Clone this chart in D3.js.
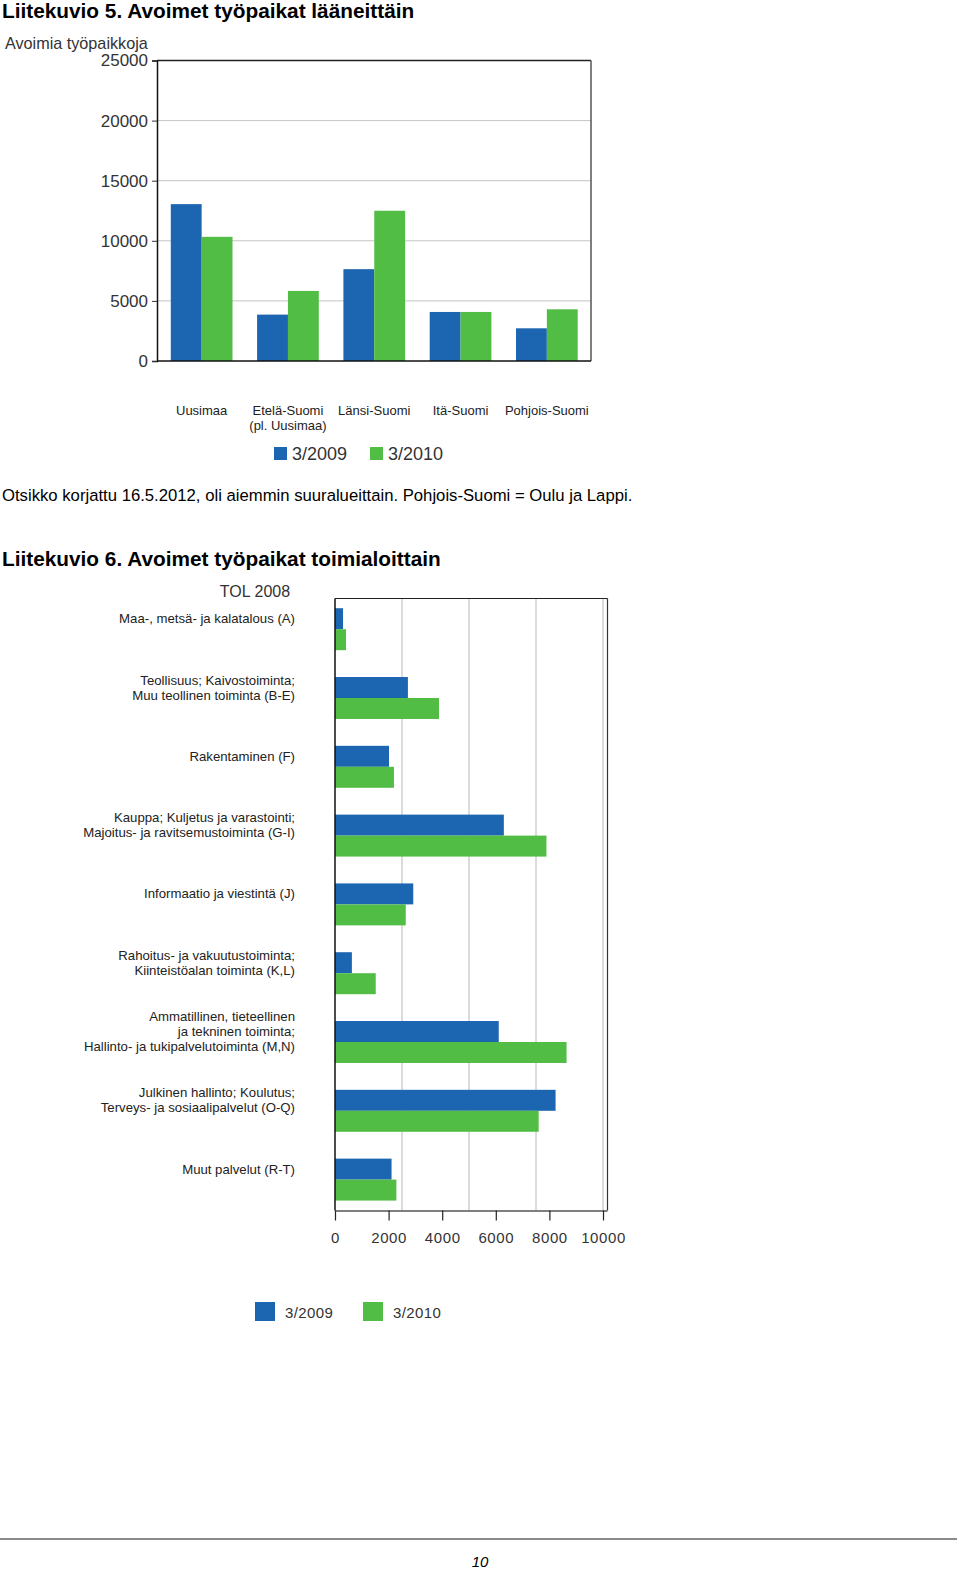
<!DOCTYPE html>
<html>
<head>
<meta charset="utf-8">
<script src="https://cdn.jsdelivr.net/npm/d3@7"></script>
<style>
  html, body { margin: 0; padding: 0; background: #fff; }
  svg { display: block; }
  text { font-family: "Liberation Sans", Arial, sans-serif; }
</style>
</head>
<body>
<svg id="page" width="960" height="1572"></svg>
<script>
// ---------- Data ----------
const seriesNames = ["3/2009", "3/2010"];
const seriesColors = ["#1c65b0", "#52bd45"];

// Chart 5: regions
const regions = ["Uusimaa", "Etelä-Suomi|(pl. Uusimaa)", "Länsi-Suomi", "Itä-Suomi", "Pohjois-Suomi"];
const region2009 = [13050, 3860, 7640, 4080, 2720];
const region2010 = [10330, 5830, 12500, 4080, 4300];
const regionTicks = [0, 5000, 10000, 15000, 20000, 25000];

// Chart 6: industries
const industries = [
  "Maa-, metsä- ja kalatalous (A)",
  "Teollisuus; Kaivostoiminta;|Muu teollinen toiminta (B-E)",
  "Rakentaminen (F)",
  "Kauppa; Kuljetus ja varastointi;|Majoitus- ja ravitsemustoiminta (G-I)",
  "Informaatio ja viestintä (J)",
  "Rahoitus- ja vakuutustoiminta;|Kiinteistöalan toiminta (K,L)",
  "Ammatillinen, tieteellinen|ja tekninen toiminta;|Hallinto- ja tukipalvelutoiminta (M,N)",
  "Julkinen hallinto; Koulutus;|Terveys- ja sosiaalipalvelut (O-Q)",
  "Muut palvelut (R-T)"
];
const industry2009 = [300, 2720, 2015, 6300, 2920, 630, 6110, 8230, 2110];
const industry2010 = [410, 3880, 2200, 7890, 2640, 1520, 8640, 7600, 2290];
const industryTicks = [0, 2000, 4000, 6000, 8000, 10000];
const industryGrid = [2500, 5000, 7500, 10000];

// ---------- Page ----------
const svg = d3.select("#page");

svg.append("text").attr("x", 2).attr("y", 17.5)
  .attr("font-size", 20.8).attr("font-weight", "bold").attr("fill", "#000")
  .text("Liitekuvio 5. Avoimet työpaikat lääneittäin");

svg.append("text").attr("x", 2).attr("y", 501)
  .attr("font-size", 16.7).attr("fill", "#000")
  .text("Otsikko korjattu 16.5.2012, oli aiemmin suuralueittain. Pohjois-Suomi = Oulu ja Lappi.");

svg.append("text").attr("x", 2).attr("y", 566)
  .attr("font-size", 20.8).attr("font-weight", "bold").attr("fill", "#000")
  .text("Liitekuvio 6. Avoimet työpaikat toimialoittain");

svg.append("line").attr("x1", 0).attr("x2", 957).attr("y1", 1539).attr("y2", 1539)
  .attr("stroke", "#8a8a8a").attr("stroke-width", 2);

svg.append("text").attr("x", 480).attr("y", 1567).attr("text-anchor", "middle")
  .attr("font-size", 15).attr("font-style", "italic").attr("fill", "#000").text("10");

// ---------- Chart 5 (vertical bars) ----------
{
  const L = 157, R = 591, T = 60.5, B = 361;
  const g = svg.append("g");
  const x0 = d3.scaleBand().domain(regions).range([158.5, 590]).paddingInner(0.285).paddingOuter(0.1425);
  const x1 = d3.scaleBand().domain(seriesNames).range([0, x0.bandwidth()]);
  const y = d3.scaleLinear().domain([0, 25000]).range([B, T]);

  // gridlines
  g.selectAll("line.grid").data(regionTicks.filter(d => d > 0 && d < 25000)).join("line")
    .attr("x1", L).attr("x2", R).attr("y1", d => y(d)).attr("y2", d => y(d))
    .attr("stroke", "#c4c4c4").attr("stroke-width", 1);

  // bars
  const data = regions.map((r, i) => ({ r, vals: [region2009[i], region2010[i]] }));
  const grp = g.selectAll("g.cat").data(data).join("g").attr("transform", d => `translate(${x0(d.r)},0)`);
  grp.selectAll("rect").data(d => d.vals.map((v, k) => ({ v, s: seriesNames[k], k }))).join("rect")
    .attr("x", d => x1(d.s)).attr("width", x1.bandwidth())
    .attr("y", d => y(d.v)).attr("height", d => B - y(d.v))
    .attr("fill", d => seriesColors[d.k]);

  // frame
  g.append("line").attr("x1", L).attr("x2", R).attr("y1", T).attr("y2", T).attr("stroke", "#222").attr("stroke-width", 1.5);
  g.append("line").attr("x1", R).attr("x2", R).attr("y1", T).attr("y2", B).attr("stroke", "#555").attr("stroke-width", 1.5);

  // axes
  const yAxis = d3.axisLeft(y).tickValues(regionTicks).tickSize(5).tickPadding(4).tickFormat(d3.format("d"));
  const ya = g.append("g").attr("transform", `translate(${L},0)`).call(yAxis);
  ya.select(".domain").attr("stroke", "#111").attr("stroke-width", 1.5);
  ya.selectAll(".tick line").attr("stroke", "#333");
  ya.selectAll(".tick text").attr("font-size", 17).attr("fill", "#333")
    .attr("font-family", "'Liberation Sans', Arial, sans-serif");

  g.append("line").attr("x1", L).attr("x2", R).attr("y1", B).attr("y2", B).attr("stroke", "#111").attr("stroke-width", 1.5);

  // category labels
  const lab = g.selectAll("text.cat").data(regions).join("text")
    .attr("x", d => x0(d) + x0.bandwidth() / 2).attr("y", 415)
    .attr("text-anchor", "middle").attr("font-size", 13).attr("fill", "#222");
  lab.selectAll("tspan").data(d => d.split("|")).join("tspan")
    .attr("x", function () { return d3.select(this.parentNode).attr("x"); })
    .attr("dy", (d, i) => i === 0 ? 0 : 15).text(d => d);

  // y title
  g.append("text").attr("x", 5).attr("y", 48.5).attr("font-size", 16.2).attr("fill", "#333").text("Avoimia työpaikkoja");

  // legend
  const legX = [274, 370];
  const leg = g.selectAll("g.leg").data(seriesNames).join("g").attr("transform", (d, i) => `translate(${legX[i]},447)`);
  leg.append("rect").attr("width", 13).attr("height", 13).attr("fill", (d, i) => seriesColors[i]);
  leg.append("text").attr("x", 18).attr("y", 12.5).attr("font-size", 18).attr("fill", "#333").text(d => d);
}

// ---------- Chart 6 (horizontal bars) ----------
{
  const L = 335, R = 607.5, T = 598.5, B = 1210.5;
  const g = svg.append("g");
  const x = d3.scaleLinear().domain([0, 10000]).range([L, 603]);
  const y0 = d3.scaleBand().domain(industries).range([594.8, 1214]).paddingInner(0.39).paddingOuter(0.195);
  const y1 = d3.scaleBand().domain(seriesNames).range([0, y0.bandwidth()]);

  // gridlines
  g.selectAll("line.grid").data(industryGrid).join("line")
    .attr("x1", d => x(d)).attr("x2", d => x(d)).attr("y1", T).attr("y2", B)
    .attr("stroke", "#cfcfcf").attr("stroke-width", 1.5);

  // bars
  const data = industries.map((c, i) => ({ c, vals: [industry2009[i], industry2010[i]] }));
  const grp = g.selectAll("g.cat").data(data).join("g").attr("transform", d => `translate(0,${y0(d.c)})`);
  grp.selectAll("rect").data(d => d.vals.map((v, k) => ({ v, s: seriesNames[k], k }))).join("rect")
    .attr("x", L).attr("width", d => x(d.v) - L)
    .attr("y", d => y1(d.s)).attr("height", y1.bandwidth())
    .attr("fill", d => seriesColors[d.k]);

  // frame
  g.append("line").attr("x1", L).attr("x2", R).attr("y1", T).attr("y2", T).attr("stroke", "#222").attr("stroke-width", 1.2);
  g.append("line").attr("x1", R).attr("x2", R).attr("y1", T).attr("y2", B).attr("stroke", "#333").attr("stroke-width", 1.2);
  g.append("line").attr("x1", L).attr("x2", L).attr("y1", T).attr("y2", B).attr("stroke", "#111").attr("stroke-width", 1.5);

  // x axis
  const xAxis = d3.axisBottom(x).tickValues(industryTicks).tickSize(10).tickPadding(12).tickFormat(d3.format("d"));
  const xa = g.append("g").attr("transform", `translate(0,${B})`).call(xAxis);
  xa.select(".domain").attr("stroke", "#555").attr("stroke-width", 1.5).attr("d", `M${L},0.5H${R}`);
  xa.selectAll(".tick line").attr("stroke", "#222").attr("stroke-width", 1.2);
  xa.selectAll(".tick text").attr("font-size", 15).attr("fill", "#333").attr("letter-spacing", 0.6)
    .attr("font-family", "'Liberation Sans', Arial, sans-serif");

  // category labels
  const lab = g.selectAll("text.cat").data(industries).join("text")
    .attr("text-anchor", "end").attr("font-size", 13.2).attr("fill", "#222")
    .attr("y", d => {
      const n = d.split("|").length;
      return y0(d) + y1(seriesNames[0]) + y1.bandwidth() / 2 - (n - 1) * 7.5 + 4.5;
    });
  lab.selectAll("tspan").data(d => d.split("|")).join("tspan")
    .attr("x", 295).attr("dy", (d, i) => i === 0 ? 0 : 15).text(d => d);

  // title
  g.append("text").attr("x", 255).attr("y", 597).attr("text-anchor", "middle")
    .attr("font-size", 16).attr("fill", "#333").text("TOL 2008");

  // legend
  const legX = [255, 363];
  const leg = g.selectAll("g.leg").data(seriesNames).join("g").attr("transform", (d, i) => `translate(${legX[i]},1302)`);
  leg.append("rect").attr("width", 20).attr("height", 19).attr("fill", (d, i) => seriesColors[i]);
  leg.append("text").attr("x", 30).attr("y", 16).attr("font-size", 15).attr("fill", "#333").attr("letter-spacing", 0.4).text(d => d);
}
</script>
</body>
</html>
